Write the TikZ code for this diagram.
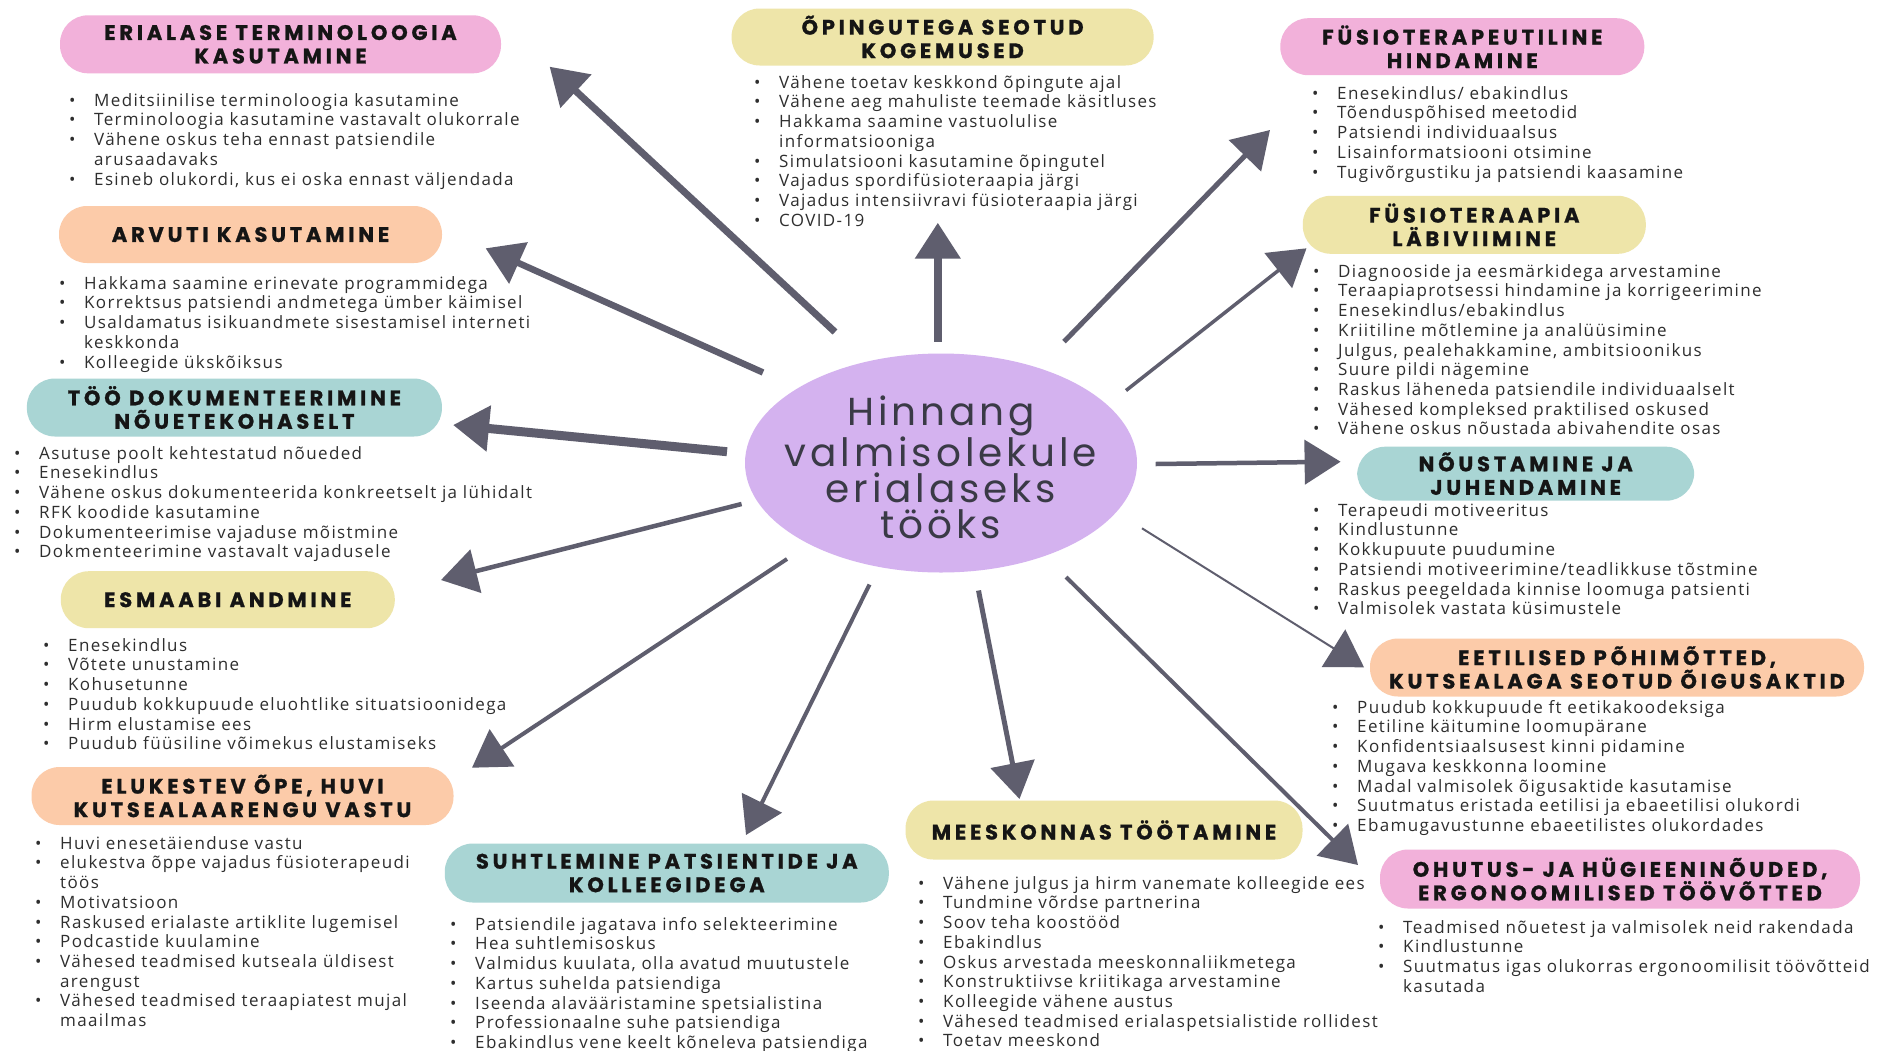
\documentclass[tikz,border=0pt]{standalone}
\usepackage{fontspec}
\setmainfont[LetterSpace=8]{Open Sans}
\newfontfamily\titlefont[LetterSpace=18,FakeBold=1]{Poppins}
\newfontfamily\hubfont[LetterSpace=10]{Poppins}
\usetikzlibrary{arrows.meta,shapes.geometric}

\definecolor{pinkfill}{HTML}{F2B1DA}
\definecolor{peachfill}{HTML}{FCCBA9}
\definecolor{tealfill}{HTML}{A9D5D4}
\definecolor{yellowfill}{HTML}{EEE5A9}
\definecolor{hubfill}{HTML}{D4B2EF}
\definecolor{arrowgray}{HTML}{5F5E6E}
\definecolor{bodytext}{HTML}{2E2E2E}
\definecolor{titletext}{HTML}{151515}
\definecolor{hubtext}{HTML}{3A3A46}

\newlength\bind
\setlength\bind{25pt}
\newcommand\bl[1]{\makebox[\bind][l]{\textbullet}#1}
\newcommand\cl[1]{\hspace*{\bind}#1}
\newcommand\fs{\rule{0pt}{18pt}}

\tikzset{
  pill/.style={rectangle, rounded corners=28pt, inner sep=0pt, align=center,
    text=titletext, font=\titlefont\bfseries\fontsize{21}{23.5}\selectfont},
  blist/.style={anchor=north west, inner sep=0pt, align=left, text=bodytext,
    font=\fontsize{17}{19.7}\selectfont},
  arr/.style={draw=arrowgray, -{Triangle[length=36pt,width=44pt]}, color=arrowgray},
}

\begin{document}
\begin{tikzpicture}[x=1pt,y=-1pt]
\useasboundingbox (0,0) rectangle (1878,1050);
\fill[white] (0,0) rectangle (1878,1050);

% central topic
\node[ellipse, fill=hubfill, minimum width=392pt, minimum height=219pt, inner sep=0pt]
  (hub) at (941,463) {};
\node[inner sep=0pt, align=center, text=hubtext, font=\hubfont\fontsize{39}{36}\selectfont]
  (hublabel) at (941,467) {Hinnang\\valmisolekule\\erialaseks\\tööks};

% category pills
\node[pill, fill=pinkfill, minimum width=441pt, minimum height=58pt]
  (erial) at (280.5,44.3) {ERIALASE TERMINOLOOGIA\\KASUTAMINE};
\node[pill, fill=peachfill, minimum width=383pt, minimum height=57pt]
  (arvuti) at (250.5,234.5) {ARVUTI KASUTAMINE};
\node[pill, fill=tealfill, minimum width=415pt, minimum height=58pt]
  (dok) at (234.4,407.5) {TÖÖ DOKUMENTEERIMINE\\NÕUETEKOHASELT};
\node[pill, fill=yellowfill, minimum width=334pt, minimum height=57pt]
  (esmaabi) at (227.8,599.7) {ESMAABI ANDMINE};
\node[pill, fill=peachfill, minimum width=422pt, minimum height=58pt]
  (elukestev) at (242.5,796) {ELUKESTEV ÕPE, HUVI\\KUTSEALAARENGU VASTU};
\node[pill, fill=tealfill, minimum width=444pt, minimum height=59pt]
  (suhtlemine) at (666.8,873) {SUHTLEMINE PATSIENTIDE JA\\KOLLEEGIDEGA};
\node[pill, fill=yellowfill, minimum width=397pt, minimum height=59pt]
  (meeskond) at (1104,830) {MEESKONNAS TÖÖTAMINE};
\node[pill, fill=pinkfill, minimum width=480pt, minimum height=59pt]
  (ohutus) at (1620,879) {OHUTUS- JA HÜGIEENINÕUDED,\\ERGONOOMILISED TÖÖVÕTTED};
\node[pill, fill=peachfill, minimum width=494pt, minimum height=58pt]
  (eetika) at (1617,667.5) {EETILISED PÕHIMÕTTED,\\KUTSEALAGA SEOTUD ÕIGUSAKTID};
\node[pill, fill=tealfill, minimum width=337pt, minimum height=54pt]
  (noustamine) at (1525.7,473.7) {NÕUSTAMINE JA\\JUHENDAMINE};
\node[pill, fill=yellowfill, minimum width=343pt, minimum height=58pt]
  (labiviimine) at (1474.3,224.8) {FÜSIOTERAAPIA\\LÄBIVIIMINE};
\node[pill, fill=pinkfill, minimum width=364pt, minimum height=57pt]
  (hindamine) at (1462.3,46.7) {FÜSIOTERAPEUTILINE\\HINDAMINE};
\node[pill, fill=yellowfill, minimum width=422pt, minimum height=57pt]
  (opingud) at (942.6,37) {ÕPINGUTEGA SEOTUD\\KOGEMUSED};

% bullet lists
\node[blist] (erial-l) at (69,88) {\fs\bl{Meditsiinilise terminoloogia kasutamine}\\
  \bl{Terminoloogia kasutamine vastavalt olukorrale}\\
  \bl{Vähene oskus teha ennast patsiendile}\\
  \cl{arusaadavaks}\\
  \bl{Esineb olukordi, kus ei oska ennast väljendada}};
\node[blist] (arvuti-l) at (59,271) {\fs\bl{Hakkama saamine erinevate programmidega}\\
  \bl{Korrektsus patsiendi andmetega ümber käimisel}\\
  \bl{Usaldamatus isikuandmete sisestamisel interneti}\\
  \cl{keskkonda}\\
  \bl{Kolleegide ükskõiksus}};
\node[blist] (dok-l) at (14,441) {\fs\bl{Asutuse poolt kehtestatud nõueded}\\
  \bl{Enesekindlus}\\
  \bl{Vähene oskus dokumenteerida konkreetselt ja lühidalt}\\
  \bl{RFK koodide kasutamine}\\
  \bl{Dokumenteerimise vajaduse mõistmine}\\
  \bl{Dokmenteerimine vastavalt vajadusele}};
\node[blist] (esmaabi-l) at (43,633) {\fs\bl{Enesekindlus}\\
  \bl{Võtete unustamine}\\
  \bl{Kohusetunne}\\
  \bl{Puudub kokkupuude eluohtlike situatsioonidega}\\
  \bl{Hirm elustamise ees}\\
  \bl{Puudub füüsiline võimekus elustamiseks}};
\node[blist] (elukestev-l) at (35,831) {\fs\bl{Huvi enesetäienduse vastu}\\
  \bl{elukestva õppe vajadus füsioterapeudi}\\
  \cl{töös}\\
  \bl{Motivatsioon}\\
  \bl{Raskused erialaste artiklite lugemisel}\\
  \bl{Podcastide kuulamine}\\
  \bl{Vähesed teadmised kutseala üldisest}\\
  \cl{arengust}\\
  \bl{Vähesed teadmised teraapiatest mujal}\\
  \cl{maailmas}};
\node[blist] (suhtlemine-l) at (450,912) {\fs\bl{Patsiendile jagatava info selekteerimine}\\
  \bl{Hea suhtlemisoskus}\\
  \bl{Valmidus kuulata, olla avatud muutustele}\\
  \bl{Kartus suhelda patsiendiga}\\
  \bl{Iseenda alavääristamine spetsialistina}\\
  \bl{Professionaalne suhe patsiendiga}\\
  \bl{Ebakindlus vene keelt kõneleva patsiendiga}};
\node[blist] (meeskond-l) at (918,871) {\fs\bl{Vähene julgus ja hirm vanemate kolleegide ees}\\
  \bl{Tundmine võrdse partnerina}\\
  \bl{Soov teha koostööd}\\
  \bl{Ebakindlus}\\
  \bl{Oskus arvestada meeskonnaliikmetega}\\
  \bl{Konstruktiivse kriitikaga arvestamine}\\
  \bl{Kolleegide vähene austus}\\
  \bl{Vähesed teadmised erialaspetsialistide rollidest}\\
  \bl{Toetav meeskond}};
\node[blist] (ohutus-l) at (1378,915) {\fs\bl{Teadmised nõuetest ja valmisolek neid rakendada}\\
  \bl{Kindlustunne}\\
  \bl{Suutmatus igas olukorras ergonoomilisit töövõtteid}\\
  \cl{kasutada}};
\node[blist] (eetika-l) at (1332,695) {\fs\bl{Puudub kokkupuude ft eetikakoodeksiga}\\
  \bl{Eetiline käitumine loomupärane}\\
  \bl{Konfidentsiaalsusest kinni pidamine}\\
  \bl{Mugava keskkonna loomine}\\
  \bl{Madal valmisolek õigusaktide kasutamise}\\
  \bl{Suutmatus eristada eetilisi ja ebaeetilisi olukordi}\\
  \bl{Ebamugavustunne ebaeetilistes olukordades}};
\node[blist] (noustamine-l) at (1313,498) {\fs\bl{Terapeudi motiveeritus}\\
  \bl{Kindlustunne}\\
  \bl{Kokkupuute puudumine}\\
  \bl{Patsiendi motiveerimine/teadlikkuse tõstmine}\\
  \bl{Raskus peegeldada kinnise loomuga patsienti}\\
  \bl{Valmisolek vastata küsimustele}};
\node[blist] (labiviimine-l) at (1313,259) {\fs\bl{Diagnooside ja eesmärkidega arvestamine}\\
  \bl{Teraapiaprotsessi hindamine ja korrigeerimine}\\
  \bl{Enesekindlus/ebakindlus}\\
  \bl{Kriitiline mõtlemine ja analüüsimine}\\
  \bl{Julgus, pealehakkamine, ambitsioonikus}\\
  \bl{Suure pildi nägemine}\\
  \bl{Raskus läheneda patsiendile individuaalselt}\\
  \bl{Vähesed kompleksed praktilised oskused}\\
  \bl{Vähene oskus nõustada abivahendite osas}};
\node[blist] (hindamine-l) at (1312,81) {\fs\bl{Enesekindlus/ ebakindlus}\\
  \bl{Tõenduspõhised meetodid}\\
  \bl{Patsiendi individuaalsus}\\
  \bl{Lisainformatsiooni otsimine}\\
  \bl{Tugivõrgustiku ja patsiendi kaasamine}};
\node[blist] (opingud-l) at (754,70) {\fs\bl{Vähene toetav keskkond õpingute ajal}\\
  \bl{Vähene aeg mahuliste teemade käsitluses}\\
  \bl{Hakkama saamine vastuolulise}\\
  \cl{informatsiooniga}\\
  \bl{Simulatsiooni kasutamine õpingutel}\\
  \bl{Vajadus spordifüsioteraapia järgi}\\
  \bl{Vajadus intensiivravi füsioteraapia järgi}\\
  \bl{COVID-19}};

% connector end points around the hub and next to the pills
\coordinate (a0) at (835,332);    \coordinate (a1) at (549.6,66.7);
\coordinate (b0) at (763,372.5);  \coordinate (b1) at (485.6,248.3);
\coordinate (c0) at (727,451.7);  \coordinate (c1) at (453,425);
\coordinate (d0) at (741.6,504);  \coordinate (d1) at (441,580);
\coordinate (e0) at (787,559);    \coordinate (e1) at (472,767.7);
\coordinate (f0) at (869.5,584.5);\coordinate (f1) at (746,835);
\coordinate (g0) at (978.5,590.5);\coordinate (g1) at (1019.5,799);
\coordinate (h0) at (1066,577);   \coordinate (h1) at (1358,865);
\coordinate (i0) at (1142,528.3); \coordinate (i1) at (1364,667.3);
\coordinate (j0) at (1155.6,464); \coordinate (j1) at (1340.6,461.7);
\coordinate (k0) at (1126,390.5); \coordinate (k1) at (1306.5,248.3);
\coordinate (l0) at (1064,341.7); \coordinate (l1) at (1270,130);
\coordinate (m0) at (937.8,341.7);\coordinate (m1) at (937.8,222.7);

% arrows from the hub to each category
\draw[arr, line width=7pt]   (a0) -- (a1);
\draw[arr, line width=6.5pt] (b0) -- (b1);
\draw[arr, line width=9pt]   (c0) -- (c1);
\draw[arr, line width=4.5pt] (d0) -- (d1);
\draw[arr, line width=4pt]   (e0) -- (e1);
\draw[arr, line width=4pt]   (f0) -- (f1);
\draw[arr, line width=5pt]   (g0) -- (g1);
\draw[arr, line width=4pt]   (h0) -- (h1);
\draw[arr, line width=2pt]   (i0) -- (i1);
\draw[arr, line width=4.5pt] (j0) -- (j1);
\draw[arr, line width=3.5pt] (k0) -- (k1);
\draw[arr, line width=5pt]   (l0) -- (l1);
\draw[arr, line width=8pt]   (m0) -- (m1);
\end{tikzpicture}
\end{document}
